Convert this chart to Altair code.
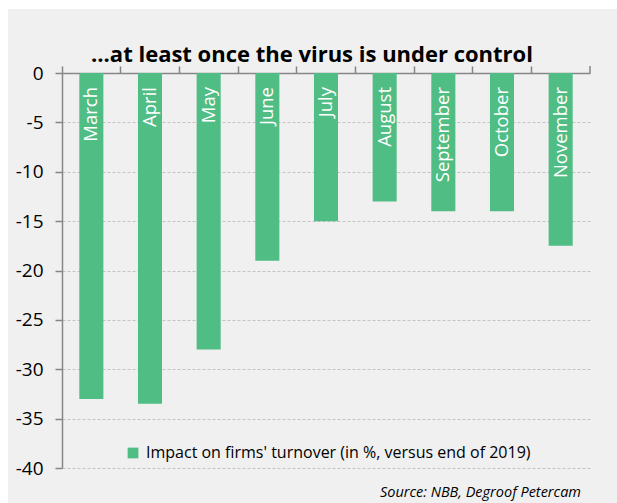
import altair as alt
import pandas as pd

months = ["March", "April", "May", "June", "July", "August", "September", "October", "November"]
values = [-33.0, -33.5, -28.0, -19.0, -15.0, -13.0, -14.0, -14.0, -17.5]
series_name = "Impact on firms' turnover (in %, versus end of 2019)"
title_text = ["...at least once the virus is under control"]
source_text = ["Source: NBB, Degroof Petercam"]
y_ticks = [0, -5, -10, -15, -20, -25, -30, -35, -40]

GREEN = "#4fbd84"
AXIS = "#868686"
W, H = 528, 395

df = pd.DataFrame({"month": months, "value": values, "series": [series_name] * len(months)})

x_enc = alt.X("month:N", sort=months,
              scale=alt.Scale(paddingInner=0, paddingOuter=0),
              axis=alt.Axis(orient="top", labels=False, title=None, bandPosition=0,
                            tickSize=7, tickColor=AXIS, domainColor=AXIS, domainWidth=1.5,
                            tickWidth=1.5, grid=False))
y_enc = alt.Y("value:Q", scale=alt.Scale(domain=[-40, 0], nice=False),
              axis=alt.Axis(values=y_ticks, title=None, labelFontSize=19, labelColor="#000000",
                            labelFont="Open Sans", labelPadding=12, tickSize=7, tickColor=AXIS,
                            labelExpr="toString(datum.value)",
                            tickWidth=1.5, domainColor=AXIS, domainWidth=1.5,
                            grid=True, gridDash=[3, 2], gridColor="#c4c4c4", gridWidth=1))

# white margin strips at the top and left of the grey panel
strip_top = alt.Chart(pd.DataFrame({"a": [0]})).mark_rect(color="white").encode(
    x=alt.value(-62), x2=alt.value(W + 27), y=alt.value(-73), y2=alt.value(-64))
strip_left = alt.Chart(pd.DataFrame({"a": [0]})).mark_rect(color="white").encode(
    x=alt.value(-62), x2=alt.value(-54), y=alt.value(-73), y2=alt.value(H + 35))

bars = alt.Chart(df).mark_bar(width=alt.RelativeBandSize(0.41)).encode(
    x=x_enc, y=y_enc,
    color=alt.Color("series:N", scale=alt.Scale(range=[GREEN]),
                    legend=alt.Legend(orient="none", legendX=63, legendY=372, title=None,
                                      symbolType="square", symbolSize=115, symbolStrokeWidth=0,
                                      labelFontSize=16, labelFont="Open Sans", labelColor="#000000",
                                      labelLimit=600, symbolOffset=0, labelOffset=5)))

labels = alt.Chart(df).mark_text(angle=270, align="right", baseline="middle", color="white",
                                 fontSize=18.5, font="Open Sans").encode(
    x=alt.X("month:N", sort=months), y=alt.value(14), text="month:N")

end_tick = alt.Chart(pd.DataFrame({"a": [0]})).mark_rule(color=AXIS, strokeWidth=1.5).encode(
    x=alt.value(W), y=alt.value(-7), y2=alt.value(0))

title = alt.Chart(pd.DataFrame({"t": title_text})).mark_text(
    fontSize=22, fontWeight="bold", font="Open Sans", align="center", baseline="alphabetic",
    color="#000000").encode(x=alt.value(250), y=alt.value(-11), text="t:N")

source = alt.Chart(pd.DataFrame({"t": source_text})).mark_text(
    fontSize=14.5, fontStyle="italic", font="Open Sans", align="right", baseline="alphabetic",
    color="#000000").encode(x=alt.value(519), y=alt.value(424), text="t:N")

chart = alt.layer(strip_top, strip_left, bars, labels, end_tick, title, source).properties(
    width=W, height=H,
    autosize=alt.AutoSizeParams(type="none"),
    padding={"left": 62, "top": 73, "right": 27, "bottom": 35},
    background="#f0f0f0",
).configure_view(stroke=None)

chart.save("out.html", embed_options={"renderer": "svg", "actions": False})
